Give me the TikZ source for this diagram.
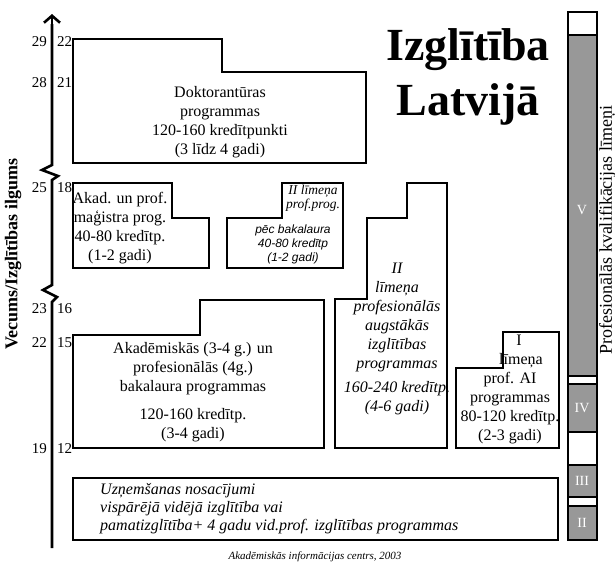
\documentclass[tikz,border=0pt]{standalone}
\usepackage{fontspec}
\setmainfont{Liberation Serif}
\newfontfamily\arialfont{Liberation Sans}
\usetikzlibrary{arrows.meta}
\definecolor{bargray}{RGB}{152,152,152}
\tikzset{
  box/.style={draw=black, line width=1.6pt, line join=miter},
  txt/.style={align=center, inner sep=0pt, font=\fontsize{16}{19}\selectfont},
  itxt/.style={align=center, inner sep=0pt, font=\fontsize{16}{19}\selectfont\itshape},
  ticklbl/.style={inner sep=0pt, font=\fontsize{15}{15}\selectfont},
  seg/.style={draw=black, line width=1.2pt, fill=bargray},
  wseg/.style={draw=black, line width=1.2pt, fill=white},
  roman/.style={inner sep=0pt, text=white, font=\fontsize{14}{14}\selectfont}
}
\begin{document}
\begin{tikzpicture}[x=1pt,y=-1pt]
\useasboundingbox (0,0) rectangle (615,566);
% axis
\coordinate (ax0) at (52,548);
\coordinate (ax1) at (52,14);
\draw[line width=2.6pt, line join=miter] (ax0) -- (52,302) -- (57,297) -- (43,290) -- (52,285) -- (52,180) -- (58,176) -- (42,170) -- (52,165) -- (52,24);
\draw[line width=2.6pt, -{Straight Barb[length=7pt,width=16pt,line width=2.6pt]}] (52,26) -- (ax1);
% tick labels
\node[ticklbl, anchor=east] (l29) at (47,42) {29};
\node[ticklbl, anchor=west] (r22) at (57,42) {22};
\node[ticklbl, anchor=east] (l28) at (47,83) {28};
\node[ticklbl, anchor=west] (r21) at (57,83) {21};
\node[ticklbl, anchor=east] (l25) at (47,188) {25};
\node[ticklbl, anchor=west] (r18) at (57,188) {18};
\node[ticklbl, anchor=east] (l23) at (47,309) {23};
\node[ticklbl, anchor=west] (r16) at (57,309) {16};
\node[ticklbl, anchor=east] (l22) at (47,343) {22};
\node[ticklbl, anchor=west] (r15) at (57,343) {15};
\node[ticklbl, anchor=east] (l19) at (47,449) {19};
\node[ticklbl, anchor=west] (r12) at (57,449) {12};
% axis label
\node[rotate=90, inner sep=0pt, font=\fontsize{18}{18}\selectfont\bfseries] (axlbl) at (13,254) {Vecums/Izglītības ilgums};
% title
\node[align=center, inner sep=0pt, font=\fontsize{46}{55}\selectfont\bfseries] (title) at (468,77) {Izglītība\\Latvijā};
% boxes
\draw[box] (73,39) -- (222,39) -- (222,72) -- (366,72) -- (366,163) -- (73,163) -- cycle;
\node[txt] (doc) at (220,122) {Doktorantūras\\programmas\\120-160 kredītpunkti\\(3 līdz 4 gadi)};
\draw[box] (73,183) -- (172,183) -- (172,218) -- (209,218) -- (209,268) -- (73,268) -- cycle;
\node[txt] (mag) at (120,228) {Akad. un prof.\\maģistra prog.\\40-80 kredītp.\\(1-2 gadi)};
\draw[box] (227,218) -- (282,218) -- (282,183) -- (343,183) -- (343,268) -- (227,268) -- cycle;
\node[align=center, inner sep=0pt, font=\fontsize{13.5}{13.5}\selectfont\itshape] (p2a) at (313,198) {II līmeņa\\prof.prog.};
\node[align=center, inner sep=0pt, font=\fontsize{12}{14}\selectfont\arialfont\itshape] (p2b) at (293,244) {pēc bakalaura\\40-80 kredītp\\(1-2 gadi)};
\draw[box] (73,335) -- (200,335) -- (200,300) -- (324,300) -- (324,448) -- (73,448) -- cycle;
\node[txt] (bak) at (193,392) {Akadēmiskās (3-4 g.) un\\profesionālās (4g.)\\bakalaura programmas\\[9pt]120-160 kredītp.\\(3-4 gadi)};
\draw[box] (335,299) -- (367,299) -- (367,218) -- (407,218) -- (407,183) -- (447,183) -- (447,448) -- (335,448) -- cycle;
\node[itxt] (p2big) at (397,339) {II\\līmeņa\\profesionālās\\augstākās\\izglītības\\programmas\\[5pt]160-240 kredītp.\\(4-6 gadi)};
\draw[box] (456,368) -- (503,368) -- (503,332) -- (559,332) -- (559,448) -- (456,448) -- cycle;
\node[txt] (ai) at (510,389) {\hspace*{18pt}I\\\hspace*{22pt}līmeņa\\prof. AI\\programmas\\80-120 kredītp.\\(2-3 gadi)};
\draw[box] (73,478) rectangle (558,540);
\node[align=left, anchor=west, inner sep=0pt, font=\fontsize{16}{18}\selectfont\itshape] (adm) at (100,509) {Uzņemšanas nosacījumi\\vispārējā vidējā izglītība vai\\pamatizglītība+ 4 gadu vid.prof. izglītības programmas};
\node[inner sep=0pt, font=\fontsize{11}{11}\selectfont\itshape] (src) at (315,557) {Akadēmiskās informācijas centrs, 2003};
% right bar
\draw[wseg] (568,12) rectangle (597,35);
\draw[seg] (568,35) rectangle (597,376);
\draw[wseg] (568,376) rectangle (597,384);
\draw[seg] (568,384) rectangle (597,432);
\draw[wseg] (568,432) rectangle (597,465);
\draw[seg] (568,465) rectangle (597,497);
\draw[wseg] (568,497) rectangle (597,506);
\draw[seg] (568,506) rectangle (597,540);
\node[roman] (rV) at (582,210) {V};
\node[roman] (rIV) at (582,408) {IV};
\node[roman] (rIII) at (582,481) {III};
\node[roman] (rII) at (582,523) {II};
\node[rotate=90, inner sep=0pt, font=\fontsize{18}{18}\selectfont] (barlbl) at (607.5,230) {Profesionālās kvalifikācijas līmeņi};
\end{tikzpicture}
\end{document}
